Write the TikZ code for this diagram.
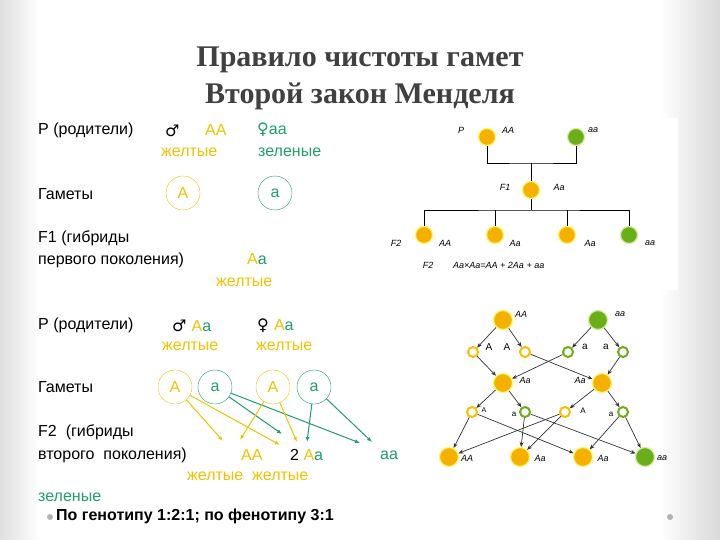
\documentclass[tikz,border=0pt]{standalone}
\usepackage{fontspec}
\setmainfont{Liberation Sans}
\newfontfamily\titlefont{Liberation Serif}
\newfontfamily\symfont{DejaVu Sans}
\usetikzlibrary{arrows.meta}
\definecolor{yel}{HTML}{F2C200}
\definecolor{grn}{HTML}{1F9E6A}
\definecolor{dotor}{HTML}{F5B000}
\definecolor{dotgr}{HTML}{6AAE1A}
\tikzset{
 txt/.style={anchor=west,inner sep=0pt,font=\fontsize{16}{19}\selectfont},
 ytxt/.style={txt,text=yel},
 gtxt/.style={txt,text=grn},
 gam/.style={circle,minimum size=34pt,inner sep=0pt,font=\fontsize{16}{19}\selectfont},
 yarr/.style={draw=yel,-{Latex[length=5pt,width=4pt]},line width=1pt},
 garr/.style={draw=grn,-{Latex[length=5pt,width=4pt]},line width=1pt},
 big/.style={circle,minimum size=19pt,inner sep=0pt},
 bo/.style={big,fill=dotor,draw=yellow!60,line width=1.2pt},
 bg/.style={big,fill=dotgr,draw=yellow!60!green!40,line width=1.2pt},
 sy/.style={circle,minimum size=10pt,inner sep=0pt,draw=dotor!80!yellow,fill=white,line width=2pt},
 sg/.style={circle,minimum size=10pt,inner sep=0pt,draw=dotgr,fill=white,line width=2pt},
 lab/.style={inner sep=0pt,font=\fontsize{9}{10}\selectfont\itshape},
 lab2/.style={inner sep=0pt,font=\fontsize{10}{11}\selectfont},
 tree/.style={line width=0.8pt},
 ar/.style={line width=0.7pt,draw=black!80,-{Stealth[length=5pt,width=4pt]}}
}
\begin{document}
\begin{tikzpicture}[x=1pt,y=-1pt]
\useasboundingbox (0,0) rectangle (720,540);
\fill[white] (0,0) rectangle (720,540);
\shade[left color=gray!25,right color=white] (0,0) rectangle (40,540);
\shade[left color=white,right color=gray!30] (660,0) rectangle (720,540);
\fill[white] (430,118) rectangle (678,290);
% title
\node[font=\titlefont\bfseries\fontsize{30}{34}\selectfont,text=black!75] (t1) at (360,60) {Правило чистоты гамет};
\node[font=\titlefont\bfseries\fontsize{30}{34}\selectfont,text=black!75] (t2) at (360,96) {Второй закон Менделя};
% left part
\node[txt] (p1) at (38,130) {Р (родители)};
\node[txt] (m1) at (165,131) {\symfont ♂};
\node[ytxt] (AA1) at (205,130) {АА};
\node[gtxt] (aa1) at (257,130) {\symfont ♀\normalfont аа};
\node[ytxt] (ye1) at (161,152) {желтые};
\node[gtxt] (gr1) at (258,152) {зеленые};
\node[txt] (g1) at (38,194) {Гаметы};
\node[gam,draw=yel,text=yel] (gA) at (183,193) {А};
\node[gam,draw=grn,text=grn] (ga) at (275,193) {а};
\node[txt] (f1a) at (38,238) {F1 (гибриды};
\node[txt] (f1b) at (38,260) {первого поколения)};
\node[txt] (Aa1) at (247,259) {\textcolor{yel}{А}\textcolor{grn}{а}};
\node[ytxt] (ye2) at (216,282) {желтые};
\node[txt] (p2) at (38,325) {Р (родители)};
\node[txt] (m2) at (172,326) {\symfont ♂ \normalfont\textcolor{yel}{А}\textcolor{grn}{а}};
\node[txt] (f2) at (257,326) {\symfont ♀ \normalfont\textcolor{yel}{А}\textcolor{grn}{а}};
\node[ytxt] (ye3) at (162,346) {желтые};
\node[ytxt] (ye4) at (256,346) {желтые};
\node[txt] (g2) at (38,387) {Гаметы};
\node[gam,draw=yel,text=yel] (A1) at (175,387) {А};
\node[gam,draw=grn,text=grn] (a1) at (215,387) {а};
\node[gam,draw=yel,text=yel] (A2) at (273,387) {А};
\node[gam,draw=grn,text=grn] (a2) at (314,387) {а};
\node[txt] (f2a) at (38,432) {F2\ \ (гибриды};
\node[txt] (f2b) at (38,455) {второго\ \ поколения)};
\node[ytxt] (AA2) at (241,455) {АА};
\node[txt] (Aa2) at (290,455) {2 \textcolor{yel}{А}\textcolor{grn}{а}};
\node[gtxt] (aa2) at (380,455) {аа};
\node[ytxt] (ye5) at (187,476) {желтые\ \ желтые};
\node[gtxt] (gr2) at (38,497) {зеленые};
\fill[gray!60] (50,517) circle (3pt);
\node[txt,font=\bfseries\fontsize{16}{19}\selectfont] (res) at (56,516) {По генотипу 1:2:1; по фенотипу 3:1};
\fill[gray!60] (670,517) circle (3pt);
\coordinate (e1) at (223,441); \coordinate (e2) at (280,445);
\coordinate (e3) at (282,434); \coordinate (e4) at (360,443);
\coordinate (e5) at (240,440); \coordinate (e6) at (297,442);
\coordinate (e7) at (307,442); \coordinate (e8) at (372,442);
\draw[yarr] (A1) -- (e1); \draw[yarr] (A1) -- (e2);
\draw[garr] (a1) -- (e3); \draw[garr] (a1) -- (e4);
\draw[yarr] (A2) -- (e5); \draw[yarr] (A2) -- (e6);
\draw[garr] (a2) -- (e7); \draw[garr] (a2) -- (e8);
% right top tree
\node[bo,minimum size=17pt] (P1) at (487,137) {};
\node[bg,minimum size=17pt] (P2) at (576,137) {};
\node[bo,minimum size=17pt] (F1) at (531,190) {};
\node[bo,minimum size=17pt] (c1) at (424,235) {};
\node[bo,minimum size=17pt] (c2) at (495,235) {};
\node[bo,minimum size=17pt] (c3) at (567,235) {};
\node[bg,minimum size=17pt] (c4) at (629,235) {};
\draw[tree] (P1) |- (531,163) -| (P2);
\draw[tree] (531,163) -- (F1);
\draw[tree] (F1) -- (531,210);
\draw[tree] (c1) |- (531,210) -| (c4);
\draw[tree] (c2) -- (495,210); \draw[tree] (c3) -- (567,210);
\node[lab] (lP) at (461,130) {P};
\node[lab] (lAA) at (508,130) {AA};
\node[lab] (laa) at (593,130) {aa};
\node[lab] (lF1) at (505,187) {F1};
\node[lab] (lAa) at (559,187) {Aa};
\node[lab] (lF2) at (396,243) {F2};
\node[lab] (l1) at (445,243) {AA};
\node[lab] (l2) at (515,243) {Aa};
\node[lab] (l3) at (590,243) {Aa};
\node[lab] (l4) at (650,243) {aa};
\node[lab] (lF2b) at (428,265) {F2};
\node[lab,anchor=west] (form) at (453,265) {Aa×Aa=AA + 2Aa + aa};
% right bottom
\node[bo] (r1) at (503,320) {};
\node[bg] (r2) at (598,320) {};
\node[sy] (s1) at (473,352) {};
\node[sy] (s2) at (525,352) {};
\node[sg] (s3) at (568,352) {};
\node[sg] (s4) at (623,352) {};
\node[bo] (m1b) at (503,383) {};
\node[bo] (m2b) at (602,383) {};
\node[sy] (u1) at (472,412) {};
\node[sg] (u2) at (525,412) {};
\node[sy] (u3) at (565,412) {};
\node[sg] (u4) at (623,412) {};
\node[bo] (b1) at (449,457) {};
\node[bo] (b2) at (520,457) {};
\node[bo] (b3) at (583,457) {};
\node[bg] (b4) at (645,457) {};
\foreach \a/\b in {r1/s1,r1/s2,r2/s3,r2/s4,s1/m1b,s3/m1b,s2/m2b,s4/m2b,m1b/u1,m1b/u2,m2b/u3,m2b/u4,u1/b1,u1/b3,u2/b2,u2/b4,u3/b1,u3/b2,u4/b3,u4/b4}
  \draw[ar] (\a) -- (\b);
\node[lab] at (521,314) {AA};
\node[lab] at (620,314) {aa};
\node[lab2] at (489,347) {A};
\node[lab2] at (507,347) {A};
\node[lab2] at (585,347) {a};
\node[lab2] at (606,347) {a};
\node[lab] at (525,380) {Aa};
\node[lab] at (580,380) {Aa};
\node[lab2,font=\fontsize{7}{8}\selectfont] at (484,410) {A};
\node[lab2,font=\fontsize{8}{9}\selectfont] at (514,414) {a};
\node[lab2,font=\fontsize{8}{9}\selectfont] at (583,411) {A};
\node[lab2,font=\fontsize{8}{9}\selectfont] at (611,414) {a};
\node[lab] at (467,458) {AA};
\node[lab] at (540,458) {Aa};
\node[lab] at (603,458) {Aa};
\node[lab] at (662,458) {aa};
\end{tikzpicture}
\end{document}
